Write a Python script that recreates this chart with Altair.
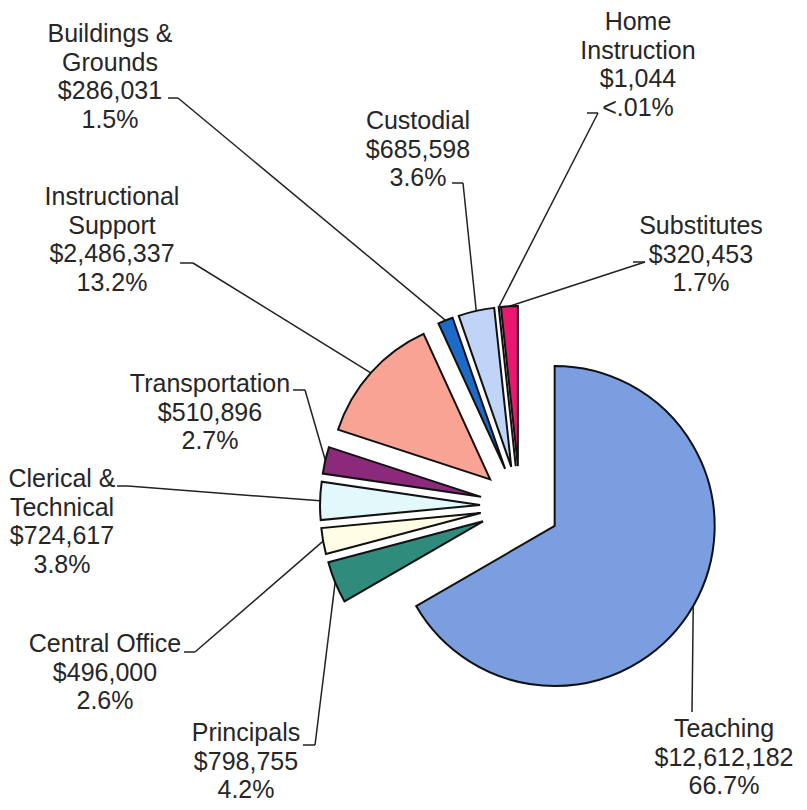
import altair as alt
import pandas as pd

# ---- data -------------------------------------------------------------
categories = ["Teaching", "Principals", "Central Office", "Clerical & Technical",
              "Transportation", "Instructional Support", "Buildings & Grounds",
              "Custodial", "Home Instruction", "Substitutes"]
label_names = ["Teaching", "Principals", "Central Office", "Clerical &\nTechnical",
               "Transportation", "Instructional\nSupport", "Buildings &\nGrounds",
               "Custodial", "Home\nInstruction", "Substitutes"]
amounts = [12612182, 798755, 496000, 724617, 510896, 2486337, 286031, 685598, 1044, 320453]
percent_labels = ["66.7%", "4.2%", "2.6%", "3.8%", "2.7%", "13.2%", "1.5%", "3.6%", "<.01%", "1.7%"]
colors = ["#7B9EE0", "#2F8C7C", "#FFFDE6", "#E2F8FB", "#8B2A7A",
          "#F9A395", "#1C6BC9", "#C0D4F7", "#F4F4F4", "#E8186F"]

# ---- label layout (page pixels) --------------------------------------
label_x = [724, 246, 105, 62, 210, 112, 110, 418, 638, 701]
label_y = [737, 741, 652, 487, 392, 205, 42, 129, 30, 234]
tick_x1 = [692, 303, 184, 117, 293, 180, 168, 452, 587, 633]
tick_x2 = [692, 315, 195, 128, 305, 193, 178, 463, 598, 645]
tick_y = [712, 745, 652, 486, 390, 263, 98, 183, 113, 262]

M = 8            # page margin
CX, CY = 520 - M, 506 - M   # pie centre in plot coords
R = 160          # pie radius
EXPLODE = 40     # explode distance

df = pd.DataFrame({
    "order": list(range(len(categories))),
    "category": categories,
    "amount": amounts,
    "label": [f"{n}\n${a:,}\n{p}" for n, a, p in zip(label_names, amounts, percent_labels)],
    "lx": [v - M for v in label_x],
    "ly": [v - M for v in label_y],
    "tx1": [v - M for v in tick_x1],
    "tx2": [v - M for v in tick_x2],
    "ty": [v - M for v in tick_y],
})

base = (
    alt.Chart(df)
    .transform_joinaggregate(total="sum(amount)")
    .transform_window(cum="sum(amount)", sort=[alt.SortField("order")], frame=[None, 0])
    .transform_calculate(t0="2*PI*(datum.cum - datum.amount)/datum.total")
    .transform_calculate(t1="2*PI*datum.cum/datum.total")
    .transform_calculate(tm="(datum.t0 + datum.t1)/2")
    .transform_calculate(cx=f"{CX} + {EXPLODE}*sin(datum.tm)")
    .transform_calculate(cy=f"{CY} - {EXPLODE}*cos(datum.tm)")
    .transform_calculate(ex=f"{CX} + {EXPLODE + R}*sin(datum.tm)")
    .transform_calculate(ey=f"{CY} - {EXPLODE + R}*cos(datum.tm)")
)

arcs = base.mark_arc(radius=R, stroke="#111111", strokeWidth=2, strokeJoin="miter").encode(
    x=alt.X("cx:Q", scale=None, axis=None),
    y=alt.Y("cy:Q", scale=None, axis=None),
    theta=alt.Theta("t0:Q", scale=None, stack=None),
    theta2="t1:Q",
    color=alt.Color("category:N", scale=alt.Scale(domain=categories, range=colors), legend=None),
)

ticks = base.mark_rule(color="#222222", strokeWidth=1.5).encode(
    x=alt.X("tx1:Q", scale=None, axis=None),
    x2="tx2:Q",
    y=alt.Y("ty:Q", scale=None, axis=None),
    y2="ty:Q",
)

leaders = base.mark_rule(color="#222222", strokeWidth=1.5).encode(
    x=alt.X("tx2:Q", scale=None, axis=None),
    x2="ex:Q",
    y=alt.Y("ty:Q", scale=None, axis=None),
    y2="ey:Q",
)

texts = base.mark_text(align="center", baseline="alphabetic", fontSize=25,
                       font="Liberation Sans", lineBreak="\n", lineHeight=28.5,
                       color="#262626").encode(
    x=alt.X("lx:Q", scale=None, axis=None),
    y=alt.Y("ly:Q", scale=None, axis=None),
    text="label:N",
)

chart = (
    alt.layer(ticks, leaders, arcs, texts)
    .properties(width=791, height=794, padding=0, autosize=alt.AutoSizeParams(type="none"))
    .configure_view(stroke=None)
)

chart.save("out.html", embed_options={"renderer": "svg", "actions": False})
